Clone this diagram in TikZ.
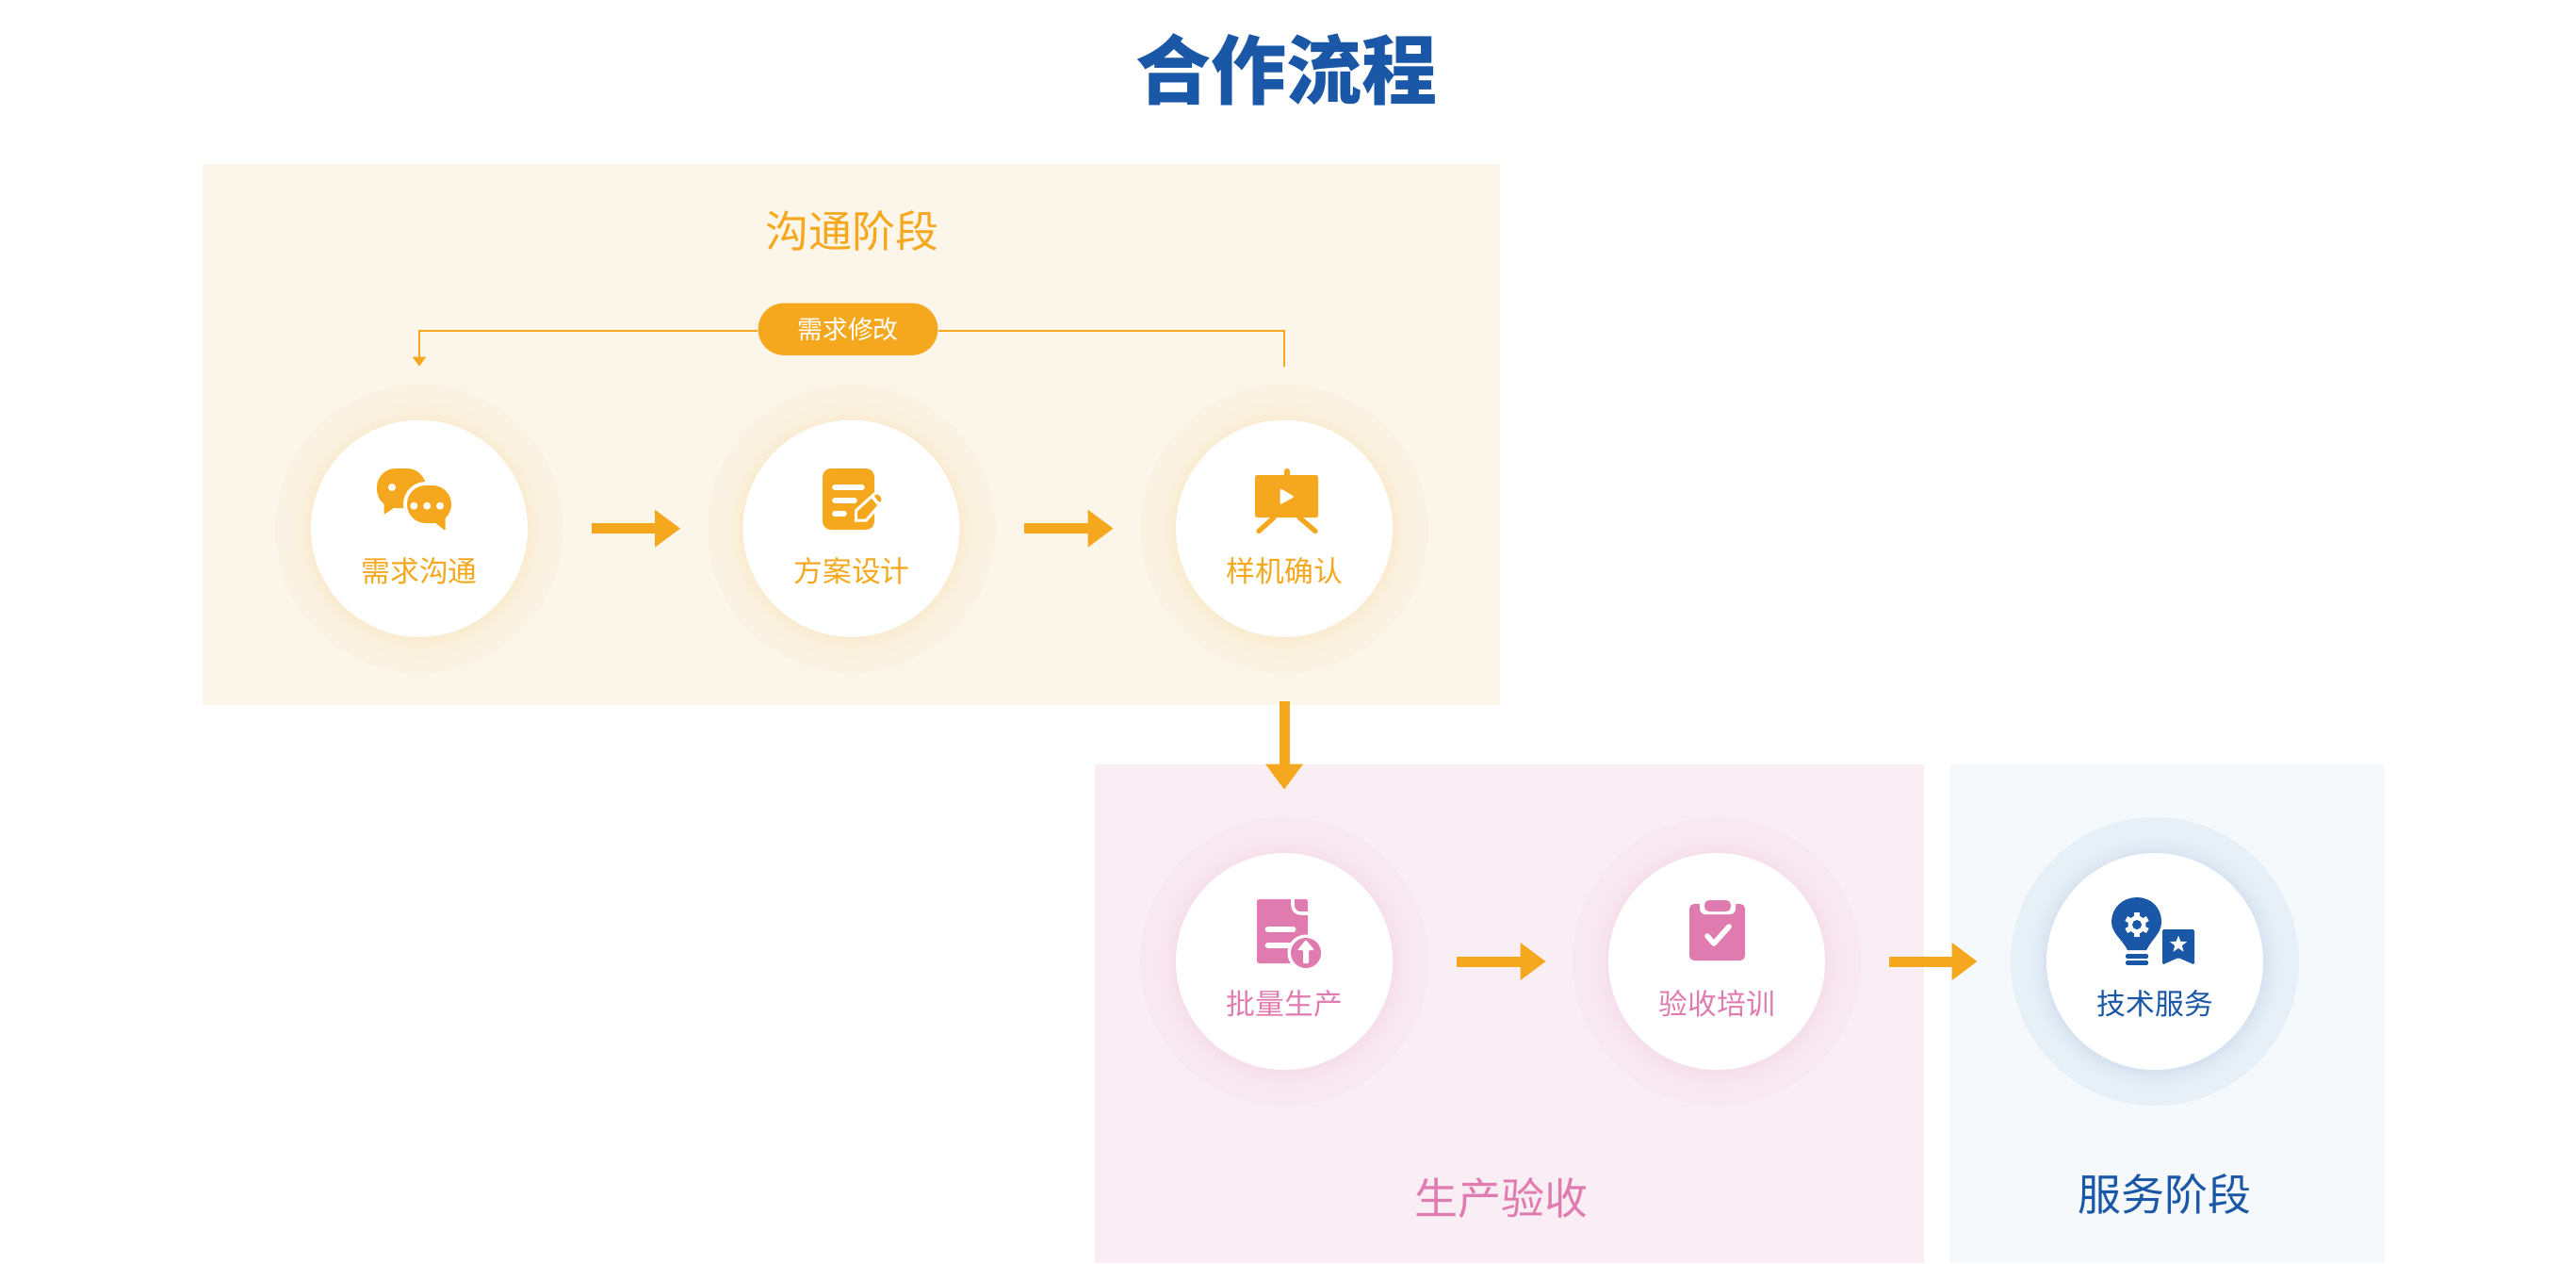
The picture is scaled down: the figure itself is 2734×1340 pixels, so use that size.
\documentclass[tikz,border=0pt]{standalone}
\usepackage{fontspec}
\setmainfont{Noto Sans CJK SC}
\usetikzlibrary{arrows.meta}
\definecolor{accent}{HTML}{F5A81D}
\definecolor{rose}{HTML}{E07BB0}
\definecolor{navy}{HTML}{1A57A6}
\definecolor{panelA}{HTML}{FCF5E9}
\definecolor{panelB}{HTML}{F9EEF4}
\definecolor{panelC}{HTML}{F5F9FC}
\definecolor{ringA}{HTML}{FAF2E2}
\definecolor{ringB}{HTML}{F8E8F1}
\definecolor{ringC}{HTML}{E8F0F7}
\tikzset{
  panel/.style={fill=#1,draw=none},
  halo/.style={circle,draw=none,fill=#1,minimum size=153pt,inner sep=0pt},
  face/.style={circle,draw=none,fill=white,minimum size=115pt,inner sep=0pt},
  caption/.style={inner sep=0pt,font=\fontsize{15.4}{18}\selectfont,text=#1},
  heading/.style={inner sep=0pt,font=\fontsize{23}{28}\selectfont,text=#1},
  flow/.style={draw=accent,line width=5.5pt,shorten <=15pt,
    -{Triangle[length=13.5pt,width=19pt]}},
  feedback/.style={draw=accent,line width=1pt},
}
% Stage disc: pale ring, soft glow built from nested tinted circles, white face.
% #1 name, #2 position, #3 ring colour, #4 glow colour
\newcommand{\stagedisc}[4]{%
  \node[halo=#3] (ring#1) at (#2) {};
  \foreach \g in {24,23,...,1}{
    \pgfmathsetmacro{\tint}{9*(1-\g/25)*(1-\g/25)}
    \fill[#4!\tint!#3] (ring#1.center) ++(0,1.5) circle[radius=115+\g];
  }
  \node[face] (face#1) at (#2) {};
}
\begin{document}
\begin{tikzpicture}[x=0.5pt,y=-0.5pt]
\useasboundingbox (0,0) rectangle (2734,1340);
\fill[white] (0,0) rectangle (2734,1340);

% Phase panels
\fill[panel=panelA] (215,174) rectangle (1592,748);
\fill[panel=panelB] (1162,811) rectangle (2041.5,1340);
\fill[panel=panelC] (2069,811) rectangle (2531,1340);

% Titles
\node[inner sep=0pt,text=navy,font=\fontsize{40}{48}\selectfont\bfseries] (title) at (1365,73.5) {合作流程};
\node[heading=accent] (phaseA) at (904,245) {沟通阶段};
\node[heading=rose] (phaseB) at (1593,1271) {生产验收};
\node[heading=navy] (phaseC) at (2297,1267) {服务阶段};

% Stage discs
\stagedisc{1}{445,560.7}{ringA}{accent}
\stagedisc{2}{903.5,560.7}{ringA}{accent}
\stagedisc{3}{1363,560.7}{ringA}{accent}
\stagedisc{4}{1363,1020}{ringB}{rose}
\stagedisc{5}{1822,1020}{ringB}{rose}
\stagedisc{6}{2287,1020}{ringC}{navy}

% Stage captions
\node[caption=accent] (capA) at (445,605.5) {需求沟通};
\node[caption=accent] (capB) at (904,605.5) {方案设计};
\node[caption=accent] (capC) at (1363.5,605.5) {样机确认};
\node[caption=rose] (capD) at (1363.5,1064.5) {批量生产};
\node[caption=rose] (capE) at (1822.5,1064.5) {验收培训};
\node[caption=navy] (capF) at (2287.5,1064.5) {技术服务};

% Flow arrows between stages
\draw[flow,shorten >=14pt] (ring1) -- (ring2);
\draw[flow,shorten >=14pt] (ring2) -- (ring3);
\draw[flow,shorten >=14.5pt] (ring3) -- (ring4);
\draw[flow,shorten >=14pt] (ring4) -- (ring5);
\draw[flow,shorten >=17.5pt] (ring5) -- (ring6);

% Requirement-change feedback loop
\node[fill=accent,rounded corners=13.8pt,minimum width=95.4pt,minimum height=27.7pt,inner sep=0pt,
  text=white,font=\fontsize{13.4}{16}\selectfont] (change) at (900,349.2) {\raisebox{-0.5pt}{需求修改}};
\coordinate (loopIn) at (445,388.5);
\coordinate (loopOut) at (1362.5,388.7);
\draw[feedback,-{Triangle[length=5pt,width=7pt]}] (change.west) ++(0,1.8) -| (loopIn);
\draw[feedback] (loopOut) |- ([yshift=-0.9pt]change.east);

% Icon: speech bubbles
\fill[accent,rounded corners=10pt] (400,497) rectangle (452,539);
\fill[accent,rounded corners=0.5pt] (407.5,530) -- (407.5,546) -- (422,536) -- cycle;
\fill[white,rounded corners=12pt] (428,511) rectangle (483,559);
\fill[accent,rounded corners=10pt] (432,515) rectangle (479,555);
\fill[accent,rounded corners=0.5pt] (472.5,548) -- (472.5,563) -- (460,553) -- cycle;
\fill[white] (416,517) circle[radius=4];
\foreach \dx in {439.3,453.2,467}{\fill[white] (\dx,536.7) circle[radius=4];}

% Icon: note with pencil
\fill[accent,rounded corners=4.5pt] (873,497) rectangle (928,562);
\draw[white,line width=2.8pt,line cap=round] (886,517) -- (915,517);
\draw[white,line width=2.8pt,line cap=round] (886,531) -- (907,531);
\draw[white,line width=2.8pt,line cap=round] (886,545) -- (896,545);
\fill[white] (907,553.5) -- (907,541) -- (928,522) -- (939,532) -- (920,553.5) -- cycle;
\fill[accent] (910,550.5) -- (910,542.5) -- (925,529) -- (931,536) -- (918.5,550.5) -- cycle;
\fill[accent,rounded corners=1pt] (927.5,526) -- (931,523.5) -- (936.5,529.5) -- (933.5,533.5) -- cycle;

% Icon: presentation board
\fill[accent,rounded corners=1.2pt] (1332,504) rectangle (1399,549);
\draw[accent,line width=2.6pt,line cap=round] (1366,499.5) -- (1366,505);
\draw[accent,line width=2.6pt,line cap=round] (1352,549) -- (1336,563.5);
\draw[accent,line width=2.6pt,line cap=round] (1379,549) -- (1396,563.5);
\fill[white,rounded corners=1pt] (1358.5,518) -- (1358.5,535.5) -- (1374,527) -- cycle;

% Icon: document with upload badge
\fill[rose,rounded corners=1.2pt] (1334,954) rectangle (1388,1022);
\draw[white,line width=1.8pt] (1372,953) -- (1372,960) .. controls (1372,966) and (1376,969) .. (1381,969) -- (1389,969);
\draw[white,line width=3.4pt,line cap=round] (1346,986) -- (1372,986);
\draw[white,line width=3.4pt,line cap=round] (1346,1003) -- (1372,1003);
\fill[white] (1386,1011) circle[radius=19.5];
\fill[rose] (1386,1011) circle[radius=16];
\fill[white,rounded corners=0.5pt] (1386,997) -- (1395,1008) -- (1389,1008) -- (1389,1022) -- (1383,1022) -- (1383,1008) -- (1377,1008) -- cycle;

% Icon: clipboard with tick
\fill[rose,rounded corners=2.5pt] (1793,959) rectangle (1852,1019);
\fill[white,rounded corners=3pt] (1804,950) rectangle (1842,970);
\fill[rose,rounded corners=2.5pt] (1809,955) rectangle (1837,967);
\draw[white,line width=2.8pt,line cap=round,line join=round] (1812,993) -- (1819,1001) -- (1835,983);

% Icon: light bulb with gear and bookmark
\fill[navy] (2258,1008) .. controls (2252,996) and (2241,990) .. (2241,978)
  .. controls (2241,963) and (2253,952) .. (2268,952)
  .. controls (2283,952) and (2294,963) .. (2294,978)
  .. controls (2294,990) and (2284,996) .. (2278,1008) -- cycle;
\draw[navy,line width=2.2pt,line cap=round] (2258,1014.5) -- (2278,1014.5);
\draw[navy,line width=2.2pt,line cap=round] (2258,1021.5) -- (2278,1021.5);
\begin{scope}[shift={(2268,981)}]
  \fill[white] (0,0) circle[radius=9.5];
  \foreach \a in {30,90,...,330}{\draw[white,line width=2.8pt] (0,0) -- (\a:13);}
  \fill[navy] (0,0) circle[radius=5];
\end{scope}
\fill[navy,rounded corners=0.8pt] (2295,986) -- (2329,986) -- (2329,1023.5) -- (2312,1016) -- (2295,1023.5) -- cycle;
\begin{scope}[shift={(2312,1002)}]
  \fill[white] (0,-9.5) -- (2.29,-3.16) -- (9.04,-2.94) -- (3.71,1.21) -- (5.58,7.69) -- (0,3.9)
    -- (-5.58,7.69) -- (-3.71,1.21) -- (-9.04,-2.94) -- (-2.29,-3.16) -- cycle;
\end{scope}
\end{tikzpicture}
\end{document}
